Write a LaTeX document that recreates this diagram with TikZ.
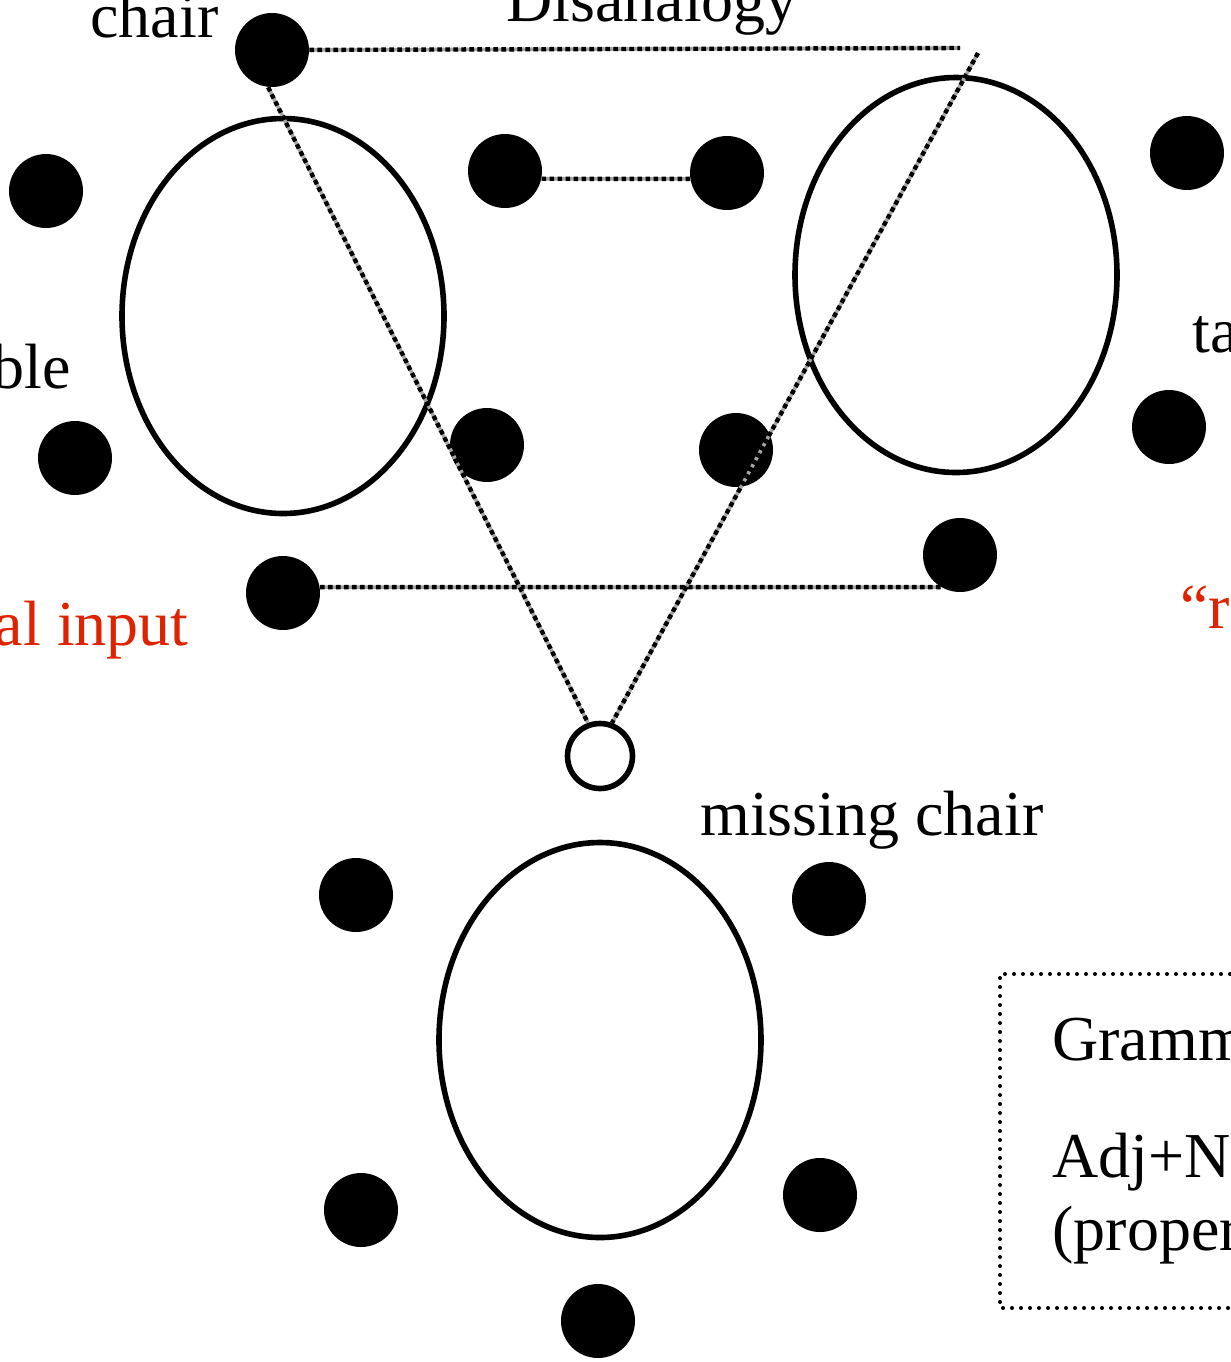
\documentclass[tikz,border=0pt]{standalone}
\usepackage{fontspec}
\setmainfont{Liberation Serif}
\usetikzlibrary{shapes.geometric}
\definecolor{inred}{RGB}{221,35,0}

\begin{document}
\begin{tikzpicture}[x=0.5pt,y=-0.5pt,
    dot/.style={circle,fill=black,inner sep=0pt,minimum size=37pt},
    hole/.style={circle,draw,line width=2.8pt,inner sep=0pt,minimum size=32.5pt},
    frame/.style={ellipse,draw,line width=2.8pt,inner sep=0pt,minimum width=161pt,minimum height=197.5pt},
    link/.style={line width=2.2pt,dash pattern=on 2.3pt off 1.7pt,preaction={draw,solid,gray!70,line width=1.8pt}},
    word/.style={inner sep=0pt,font=\fontsize{32}{38}\selectfont}]
  \useasboundingbox (0,0) rectangle (1231,1362);
  % the three frames
  \node[frame] (left) at (283,316) {};
  \node[frame] (right) at (956,275) {};
  \node[frame] (bottom) at (600,1040) {};
  % dots round the frames
  \node[dot] (chair) at (272,50) {};
  \node[dot] (d2) at (46,191) {};
  \node[dot] (d3) at (505,171) {};
  \node[dot] (d4) at (727,173) {};
  \node[dot] (d5) at (1187,153) {};
  \node[dot] (d6) at (75,458) {};
  \node[dot] (d7) at (487,445) {};
  \node[dot] (d8) at (736,450) {};
  \node[dot] (d9) at (1169,427) {};
  \node[dot] (d10) at (283,593) {};
  \node[dot] (d11) at (960,555) {};
  \node[dot] (d13) at (356,895) {};
  \node[dot] (d14) at (829,899) {};
  \node[dot] (d15) at (361,1210) {};
  \node[dot] (d16) at (820,1195) {};
  \node[dot] (d17) at (598,1321) {};
  \node[hole] (missing) at (600,756) {};
  % links
  \coordinate (top) at (960,48);
  \coordinate (far) at (978,53);
  \draw[link] (chair) -- (top);
  \draw[link] (d3.-12) -- (d4.189);
  \draw[link] (d10.9) -- (d11.239);
  \draw[link] (chair.264) -- (missing.110);
  \draw[link] (far) -- (missing.70);
  % labels
  \node[word,anchor=base west] (lchair) at (90,37) {chair};
  \node[word,anchor=base west] (ldis) at (506,21) {Disanalogy};
  \node[word,anchor=base east] (ltable) at (71,388) {ble};
  \node[word,anchor=base east,text=inred] (linput) at (189,645) {al input};
  \node[word,anchor=base west] (lta) at (1192,352) {ta};
  \node[word,anchor=base west,text=inred] (lquote) at (1180,628) {“r};
  \node[word,anchor=base west] (lmissing) at (700,835) {missing chair};
  % grammar box
  \draw[line width=2pt,dash pattern=on 0pt off 4.5pt,line cap=round] (1500,974) -- (1000,974) -- (1000,1308) -- (1500,1308);
  \node[word,anchor=base west] (lgram) at (1052,1060) {Gramm};
  \node[word,anchor=base west] (ladj) at (1052,1177) {Adj+N};
  \node[word,anchor=base west] (lprop) at (1052,1250) {(proper};
\end{tikzpicture}
\end{document}
